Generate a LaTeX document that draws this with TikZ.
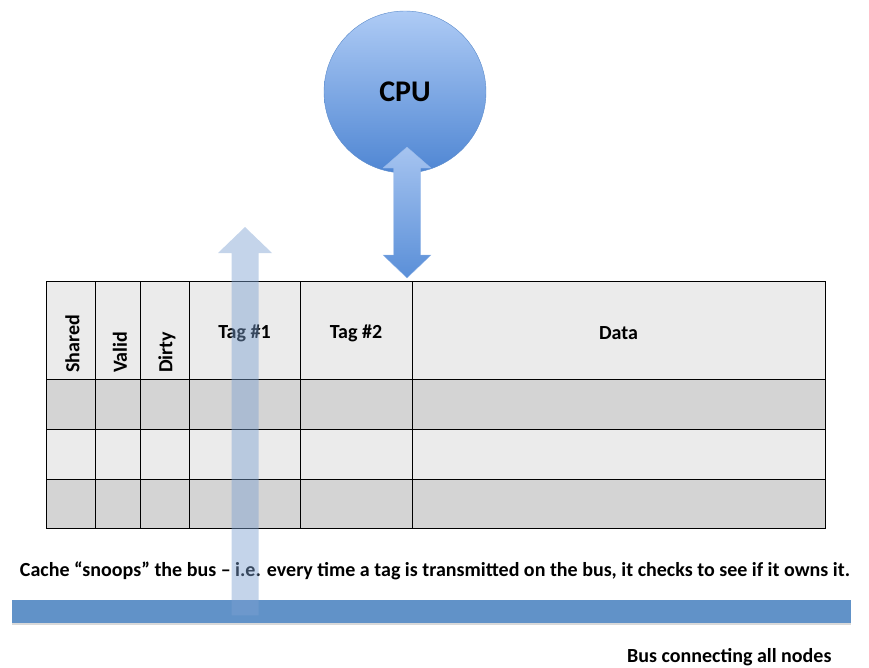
\documentclass[tikz,border=0pt]{standalone}
\usepackage{fontspec}
\setmainfont{Carlito}
\usetikzlibrary{calc,shadows}
\definecolor{cpulight}{HTML}{AECBF5}
\definecolor{cpudark}{HTML}{4F86D3}
\definecolor{cpuedge}{HTML}{5B8BCB}
\definecolor{arrlight}{HTML}{A6C4F0}
\definecolor{arrdark}{HTML}{5A8FD8}
\definecolor{rowlight}{HTML}{EBEBEB}
\definecolor{rowdark}{HTML}{D4D4D4}
\definecolor{busblue}{HTML}{6192C8}
\definecolor{snoopblue}{HTML}{7CA0D1}

\begin{document}
\begin{tikzpicture}[x=1pt, y=-1pt,
  hdr/.style={font=\bfseries\fontsize{20}{24}\selectfont},
  vhdr/.style={hdr, rotate=90, anchor=west, inner sep=0pt},
  grid/.style={line width=0.9pt, black}]
\useasboundingbox (0,0) rectangle (869,667);

% processor
\node[circle, minimum size=162pt, draw=cpuedge, top color=cpulight, bottom color=cpudark,
  font=\bfseries\fontsize{30}{36}\selectfont] (cpu) at (405,92) {CPU};

% cache lines
\foreach \top/\bot/\shade in {281/379/rowlight, 379/429/rowdark, 429/479/rowlight, 479/528/rowdark}
  \fill[\shade] (46,\top) rectangle (825,\bot);
\foreach \y in {379,429,479}
  \draw[grid] (46,\y) -- (825,\y);
\foreach \x in {95,140,189,300,412}
  \draw[grid] (\x,281) -- (\x,528);
\node[grid, draw, minimum width=779pt, minimum height=247pt, anchor=north west, inner sep=0pt] (cache) at (46,281) {};

\node[vhdr] (shared) at (72.5,373) {Shared};
\node[vhdr] (valid) at (120,373) {Valid};
\node[vhdr] (dirty) at (167,373) {Dirty};
\node[hdr] (tagone) at (244.5,333) {Tag \#1};
\node[hdr] (tagtwo) at (356,333) {Tag \#2};
\node[hdr] (data) at (618.5,333) {Data};

% cpu <-> cache
\coordinate (cpuend) at (407,147);
\coordinate (cacheend) at (cache.north -| 407,0);
\path[top color=arrlight, bottom color=arrdark, draw=arrlight!80!cpuedge, line width=0.3pt]
  (cpuend) -- ++(24,21) -- ++(-10.5,0) -- ($(cacheend)+(13.5,-26)$) -- ++(10.5,0)
  -- ($(cacheend)+(0,-3)$) -- ++(-24,-23) -- ++(10.5,0) -- ($(cpuend)+(-13.5,21)$) -- ++(-10.5,0) -- cycle;

% bus
\node[fill=busblue, minimum width=839pt, minimum height=23pt, anchor=north west, inner sep=0pt,
  drop shadow={shadow xshift=0pt, shadow yshift=-2pt, opacity=.3}] (bus) at (12,600) {};

\node[hdr] (snoop) at (435,571) {Cache “snoops” the bus – i.e. every time a tag is transmitted on the bus, it checks to see if it owns it.};
\node[hdr, anchor=east] (buslabel) at (835,657) {Bus connecting all nodes};

% snooping the bus
\coordinate (snooptip) at (245,227);
\coordinate (snoopfoot) at (bus.south -| 245,0);
\fill[snoopblue, opacity=.45] (snooptip) -- ++(27,26) -- ++(-13.5,0) -- ($(snoopfoot)+(13.5,-8)$)
  -- ($(snoopfoot)+(-13.5,-8)$) -- ($(snooptip)+(-13.5,26)$) -- ++(-13.5,0) -- cycle;
\end{tikzpicture}
\end{document}
